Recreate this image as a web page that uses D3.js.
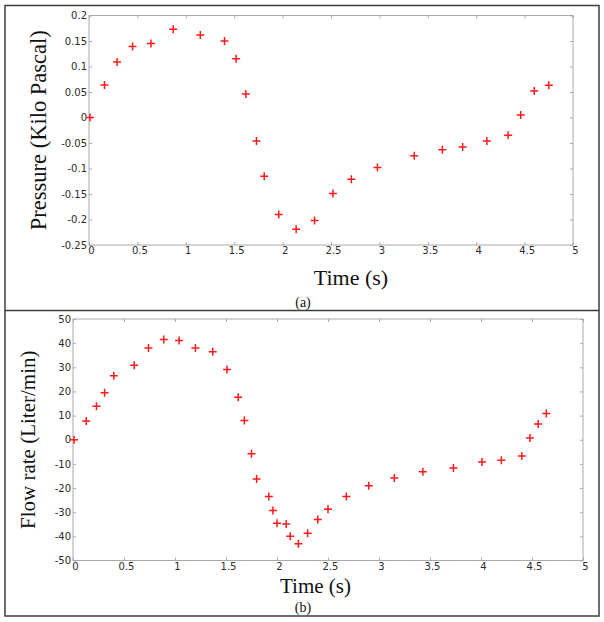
<!DOCTYPE html>
<html>
<head>
<meta charset="utf-8">
<script src="https://cdn.jsdelivr.net/npm/d3@7"></script>
<style>
  html, body { margin: 0; padding: 0; background: #fff; }
  svg { display: block; }
</style>
</head>
<body>
<svg id="chart" width="604" height="622"></svg>
<script>
// ---- Data: panel (a) pressure ----
const timeA = [0.01, 0.16, 0.29, 0.45, 0.64, 0.87, 1.15, 1.40, 1.52, 1.62, 1.73, 1.81, 1.96, 2.14, 2.33, 2.52, 2.71, 2.98, 3.36, 3.65, 3.86, 4.11, 4.33, 4.46, 4.60, 4.75];
const pressure = [0, 0.0635, 0.109, 0.139, 0.145, 0.173, 0.162, 0.150, 0.115, 0.046, -0.046, -0.115, -0.190, -0.219, -0.202, -0.149, -0.121, -0.098, -0.075, -0.063, -0.058, -0.046, -0.035, 0.005, 0.052, 0.063];

// ---- Data: panel (b) flow rate ----
const timeB = [0.01, 0.13, 0.23, 0.31, 0.40, 0.60, 0.74, 0.89, 1.04, 1.20, 1.37, 1.51, 1.62, 1.68, 1.75, 1.80, 1.92, 1.96, 2.00, 2.09, 2.13, 2.21, 2.30, 2.40, 2.50, 2.68, 2.90, 3.15, 3.43, 3.73, 4.01, 4.20, 4.40, 4.48, 4.56, 4.64];
const flow = [0, 7.8, 13.9, 19.5, 26.5, 30.9, 38.0, 41.5, 41.1, 38.0, 36.4, 29.1, 17.6, 8.0, -5.8, -16.3, -23.5, -29.3, -34.6, -34.9, -40.0, -43.1, -38.7, -33.0, -28.8, -23.5, -19.0, -15.8, -13.2, -11.7, -9.2, -8.5, -6.7, 0.7, 6.5, 10.9];

// ---- Ticks ----
const xTicks = [0, 0.5, 1, 1.5, 2, 2.5, 3, 3.5, 4, 4.5, 5];
const yTicksA = [-0.25, -0.2, -0.15, -0.1, -0.05, 0, 0.05, 0.1, 0.15, 0.2];
const yTicksB = [-50, -40, -30, -20, -10, 0, 10, 20, 30, 40, 50];

// ---- Labels ----
const yTitleA = "Pressure (Kilo Pascal)";
const yTitleB = "Flow rate (Liter/min)";
const xTitle = "Time (s)";
const captions = ["(a)", "(b)"];

const SERIF = "'Liberation Serif', 'Times New Roman', Times, serif";
const SANS = "'DejaVu Sans', Verdana, sans-serif";

const svg = d3.select("#chart");

// outer frame and divider
svg.append("rect").attr("x", 5).attr("y", 5.5).attr("width", 594).attr("height", 610.5)
  .attr("fill", "none").attr("stroke", "#3c3c3c").attr("stroke-width", 1.5);
svg.append("line").attr("x1", 5).attr("x2", 599).attr("y1", 310.5).attr("y2", 310.5)
  .attr("stroke", "#3c3c3c").attr("stroke-width", 1.5);

const fmt = d => String(+d.toFixed(2)).replace("\u2212", "-");

function panel(cfg) {
  const x = d3.scaleLinear().domain([0, 5]).range([cfg.left, cfg.right]);
  const y = d3.scaleLinear().domain(cfg.yDomain).range([cfg.bottom, cfg.top]);
  const g = svg.append("g");
  const axisColor = "#a9a9a9";
  const tl = 3;

  // bottom axis (ticks inside)
  const xb = g.append("g").attr("transform", `translate(0,${cfg.bottom})`)
    .call(d3.axisBottom(x).tickValues(xTicks).tickSize(-tl).tickFormat(fmt).tickPadding(0));
  xb.select(".domain").remove();
  xb.selectAll("line").attr("stroke", axisColor);
  xb.selectAll("text").attr("y", 9).attr("dy", 0).attr("dx", 2)
    .attr("fill", "#2b2b2b").style("font-family", SANS).style("font-size", "10px");

  // top ticks
  const xt = g.append("g").attr("transform", `translate(0,${cfg.top})`)
    .call(d3.axisTop(x).tickValues(xTicks).tickSize(-tl).tickFormat(""));
  xt.select(".domain").remove();
  xt.selectAll("line").attr("stroke", axisColor);

  // left axis
  const yl = g.append("g").attr("transform", `translate(${cfg.left},0)`)
    .call(d3.axisLeft(y).tickValues(cfg.yTicks).tickSize(-tl).tickFormat(fmt).tickPadding(2));
  yl.select(".domain").remove();
  yl.selectAll("line").attr("stroke", axisColor);
  yl.selectAll("text").attr("x", -2)
    .attr("fill", "#2b2b2b").style("font-family", SANS).style("font-size", "10px");

  // right ticks
  const yr = g.append("g").attr("transform", `translate(${cfg.right},0)`)
    .call(d3.axisRight(y).tickValues(cfg.yTicks).tickSize(-tl).tickFormat(""));
  yr.select(".domain").remove();
  yr.selectAll("line").attr("stroke", axisColor);

  // plot box
  g.append("rect").attr("x", cfg.left).attr("y", cfg.top)
    .attr("width", cfg.right - cfg.left).attr("height", cfg.bottom - cfg.top)
    .attr("fill", "none").attr("stroke", axisColor).attr("stroke-width", 1);

  // markers
  const s = 4;
  const pts = cfg.xs.map((t, i) => [t, cfg.ys[i]]);
  g.append("g").selectAll("path").data(pts).join("path")
    .attr("d", d => {
      const px = x(d[0]), py = y(d[1]);
      return `M${px - s},${py}H${px + s}M${px},${py - s}V${py + s}`;
    })
    .attr("stroke", "#ff1a1a").attr("stroke-width", 1.5).attr("fill", "none");

  // titles
  g.append("text").attr("transform", `translate(${cfg.yTitleX},${(cfg.top + cfg.bottom) / 2}) rotate(-90)`)
    .attr("text-anchor", "middle").attr("dy", "0.35em")
    .style("font-family", SERIF).style("font-size", cfg.yTitleSize + "px")
    .attr("fill", "#111").text(cfg.yTitle);
  g.append("text").attr("x", cfg.xTitleX).attr("y", cfg.xTitleY).attr("text-anchor", "middle")
    .style("font-family", SERIF).style("font-size", cfg.xTitleSize + "px")
    .attr("fill", "#111").text(xTitle);
  g.append("text").attr("x", 303).attr("y", cfg.capY).attr("text-anchor", "middle")
    .style("font-family", SERIF).style("font-size", "14px")
    .attr("fill", "#111").text(cfg.caption);
}

panel({
  left: 89, right: 573, top: 15.5, bottom: 245,
  yDomain: [-0.25, 0.2], yTicks: yTicksA,
  xs: timeA, ys: pressure,
  yTitle: yTitleA, yTitleX: 38, yTitleSize: 22.5,
  xTitleX: 351, xTitleY: 285, xTitleSize: 22,
  caption: captions[0], capY: 307
});

panel({
  left: 73, right: 583, top: 319, bottom: 560.5,
  yDomain: [-50, 50], yTicks: yTicksB,
  xs: timeB, ys: flow,
  yTitle: yTitleB, yTitleX: 28, yTitleSize: 21,
  xTitleX: 315.5, xTitleY: 593, xTitleSize: 21,
  caption: captions[1], capY: 611.5
});
</script>
</body>
</html>
